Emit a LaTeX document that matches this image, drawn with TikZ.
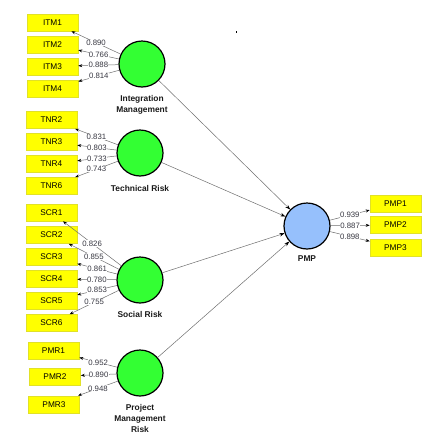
\documentclass[tikz,border=0pt]{standalone}
\usepackage{fontspec}
\setmainfont{Liberation Sans}
\usetikzlibrary{arrows.meta}
\definecolor{indfill}{RGB}{255,255,0}
\definecolor{indborder}{RGB}{225,225,40}
\definecolor{lvgreen}{RGB}{51,255,51}
\definecolor{lvblue}{RGB}{150,192,252}
\definecolor{linegray}{RGB}{110,110,110}
\definecolor{valgray}{RGB}{55,55,65}
\begin{document}
\begin{tikzpicture}[x=1pt,y=-1pt,
  ind/.style={draw=indborder, line width=0.6pt, fill=indfill, minimum width=51pt, minimum height=17pt, inner sep=0pt, font=\fontsize{8.3}{9}\selectfont},
  lv/.style={circle, draw=black, line width=1.2pt, minimum size=46pt, inner sep=0pt},
  lbl/.style={font=\fontsize{8.4}{11}\selectfont\bfseries, align=center, text=black!90},
  load/.style={draw=linegray, line width=0.5pt, -{Stealth[length=4pt,width=3pt,color=black]}},
  struct/.style={draw=linegray, line width=0.5pt, -{Stealth[length=5pt,width=3.5pt,color=black]}},
  val/.style={fill=white, inner sep=0.3pt, font=\fontsize{7.8}{8}\selectfont, text=valgray, pos=0.5},
]
\useasboundingbox (0,0) rectangle (448,437);
\fill[black] (235.5,30.5) rectangle (237,32.5);

% latent variables
\node[lv, fill=lvgreen] (im) at (142,64) {};
\node[lv, fill=lvgreen] (tr) at (140,153) {};
\node[lv, fill=lvgreen] (sr) at (140,280) {};
\node[lv, fill=lvgreen] (pm) at (140,373) {};
\node[lv, fill=lvblue] (pmp) at (307,226) {};

\node[lbl] (imL) at (142,104.5) {Integration\\Management};
\node[lbl] (trL) at (140,188) {Technical Risk};
\node[lbl] (srL) at (140,314) {Social Risk};
\node[lbl] (pmL) at (140,418) {Project\\Management\\Risk};
\node[lbl] (pmpL) at (307,259) {PMP};

% indicators
\node[ind] (itm1) at (52.5,22.5) {ITM1};
\node[ind] (itm2) at (52.5,44.5) {ITM2};
\node[ind] (itm3) at (52.5,66.5) {ITM3};
\node[ind] (itm4) at (52.5,88.5) {ITM4};

\node[ind] (tnr2) at (51.5,120) {TNR2};
\node[ind] (tnr3) at (51.5,142) {TNR3};
\node[ind] (tnr4) at (51.5,164) {TNR4};
\node[ind] (tnr6) at (51.5,186) {TNR6};

\node[ind] (scr1) at (51.5,212.5) {SCR1};
\node[ind] (scr2) at (51.5,235) {SCR2};
\node[ind] (scr3) at (51.5,257) {SCR3};
\node[ind] (scr4) at (51.5,279) {SCR4};
\node[ind] (scr5) at (51.5,301) {SCR5};
\node[ind] (scr6) at (51.5,323) {SCR6};

\node[ind] (pmr1) at (53.5,351) {PMR1};
\node[ind] (pmr2) at (55,376.5) {PMR2};
\node[ind] (pmr3) at (54,404.5) {PMR3};

\node[ind] (pmp1) at (395.5,203.5) {PMP1};
\node[ind] (pmp2) at (395.5,225) {PMP2};
\node[ind] (pmp3) at (395.5,247.5) {PMP3};

% structural paths
\draw[struct] (im) -- (pmp);
\draw[struct] (tr) -- (pmp);
\draw[struct] (sr) -- (pmp);
\draw[struct] (pm) -- (pmp);

% loadings
\draw[load] (im) -- node[val]{0.890} (itm1);
\draw[load] (im) -- node[val]{0.766} (itm2);
\draw[load] (im) -- node[val]{0.888} (itm3);
\draw[load] (im) -- node[val]{0.814} (itm4);

\draw[load] (tr) -- node[val]{0.831} (tnr2);
\draw[load] (tr) -- node[val]{0.803} (tnr3);
\draw[load] (tr) -- node[val]{0.733} (tnr4);
\draw[load] (tr) -- node[val]{0.743} (tnr6);

\draw[load] (sr) -- node[val]{0.826} (scr1);
\draw[load] (sr) -- node[val]{0.855} (scr2);
\draw[load] (sr) -- node[val]{0.861} (scr3);
\draw[load] (sr) -- node[val]{0.780} (scr4);
\draw[load] (sr) -- node[val]{0.853} (scr5);
\draw[load] (sr) -- node[val]{0.755} (scr6);

\draw[load] (pm) -- node[val]{0.952} (pmr1);
\draw[load] (pm) -- node[val]{0.890} (pmr2);
\draw[load] (pm) -- node[val]{0.948} (pmr3);

\draw[load] (pmp) -- node[val]{0.939} (pmp1);
\draw[load] (pmp) -- node[val]{0.887} (pmp2);
\draw[load] (pmp) -- node[val]{0.898} (pmp3);
\end{tikzpicture}
\end{document}
